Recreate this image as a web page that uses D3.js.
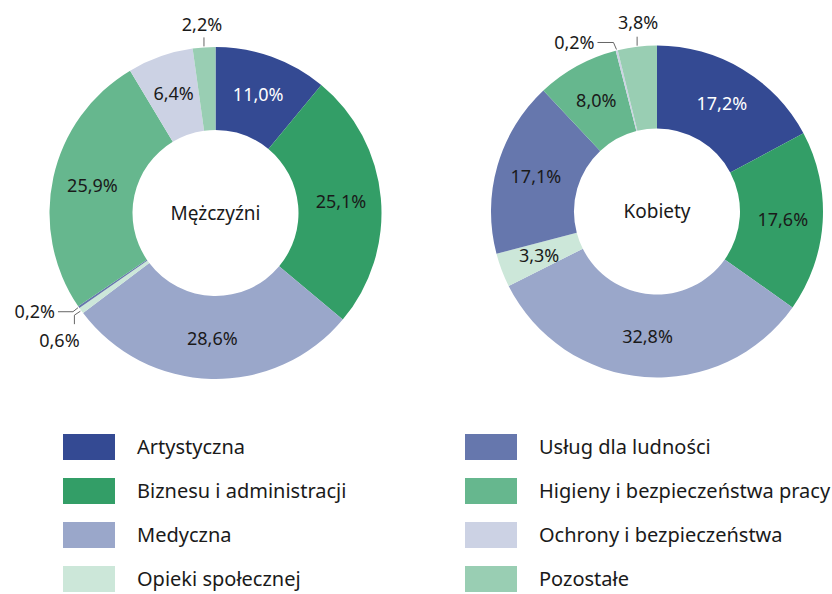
<!DOCTYPE html>
<html>
<head>
<meta charset="utf-8">
<script src="https://cdn.jsdelivr.net/npm/d3@7"></script>
<style>
  body { margin: 0; background: #fff; }
  text { font-family: "Noto Sans", sans-serif; fill: #1a1a1a; }
</style>
</head>
<body>
<div id="chart"></div>
<script>
// categories + colours (same order for both donuts and the legend)
const categories = ["Artystyczna", "Biznesu i administracji", "Medyczna", "Opieki społecznej",
                    "Usług dla ludności", "Higieny i bezpieczeństwa pracy", "Ochrony i bezpieczeństwa", "Pozostałe"];
const colors = ["#344a93", "#339e67", "#9aa7ca", "#cce7d9", "#6677ad", "#66b78e", "#ccd2e4", "#99ceb3"];

const menValues   = [11.0, 25.1, 28.6, 0.6, 0.2, 25.9, 6.4, 2.2];
const womenValues = [17.2, 17.6, 32.8, 3.3, 17.1, 8.0, 0.2, 3.8];
const groups = ["Mężczyźni", "Kobiety"];

let width = 832, height = 594;
let outerR = 166, innerR = 83, labelR = 126;

// small slices get their label outside with a leader line (offsets from the slice edge)
let leaders = [
  {
    "Pozostałe":          {pts: [[0, -9]], text: [-2, -22], anchor: "middle"},
    "Usług dla ludności": {pts: [[-5, 4], [-20, 4]], text: [-23, 4], anchor: "end"},
    "Opieki społecznej":  {pts: [[-6, 4], [-6, 13]], text: [-21, 30], anchor: "middle"}
  },
  {
    "Ochrony i bezpieczeństwa": {pts: [[-3, -7], [-19, -7]], text: [-22, -7], anchor: "end"},
    "Pozostałe":                {pts: [[0, -9]], text: [1, -23], anchor: "middle"}
  }
];
let centers = [[215.5, 213], [657, 211.5]];
let whiteLabels = ["Artystyczna"];

let svg = d3.select("#chart")
    .append("svg")
    .attr("width", width)
    .attr("height", height);

let pie = d3.pie().sort(null).value(d => d.value);
let arc = d3.arc().innerRadius(innerR).outerRadius(outerR);
let labelArc = d3.arc().innerRadius(labelR).outerRadius(labelR);
let fmt = v => d3.format(".1f")(v).replace(".", ",") + "%";
let color = d3.scaleOrdinal().domain(categories).range(colors);

[menValues, womenValues].forEach(function(values, gi) {
  let data = categories.map((c, i) => ({name: c, value: values[i]}));
  let arcs = pie(data);

  let g = svg.append("g")
      .attr("transform", "translate(" + centers[gi][0] + "," + centers[gi][1] + ")");

  g.selectAll("path.slice")
      .data(arcs)
      .enter().append("path")
      .attr("class", "slice")
      .attr("fill", d => color(d.data.name))
      .attr("d", arc);

  // inside labels
  g.selectAll("text.pct")
      .data(arcs.filter(d => !leaders[gi][d.data.name]))
      .enter().append("text")
      .attr("class", "pct")
      .attr("transform", d => "translate(" + labelArc.centroid(d) + ")")
      .attr("text-anchor", "middle")
      .attr("dy", "0.35em")
      .style("font-size", "18px")
      .style("fill", d => whiteLabels.includes(d.data.name) ? "#fff" : "#1a1a1a")
      .text(d => fmt(d.data.value));

  // outside labels with leader lines
  arcs.filter(d => leaders[gi][d.data.name]).forEach(function(d) {
    let spec = leaders[gi][d.data.name];
    let a = (d.startAngle + d.endAngle) / 2;
    let p0 = [Math.sin(a) * (outerR + 1), -Math.cos(a) * (outerR + 1)];
    let pts = [p0].concat(spec.pts.map(p => [p0[0] + p[0], p0[1] + p[1]]));
    g.append("path")
        .attr("d", d3.line()(pts))
        .attr("fill", "none")
        .attr("stroke", "#666")
        .attr("stroke-width", 1);
    g.append("text")
        .attr("x", p0[0] + spec.text[0])
        .attr("y", p0[1] + spec.text[1])
        .attr("dy", "0.35em")
        .attr("text-anchor", spec.anchor)
        .style("font-size", "18px")
        .text(fmt(d.data.value));
  });

  g.append("text")
      .attr("text-anchor", "middle")
      .attr("dy", "0.35em")
      .style("font-size", "19px")
      .text(groups[gi]);
});

// legend, two columns of four
let legend = svg.append("g");
let item = legend.selectAll("g.item")
    .data(categories)
    .enter().append("g")
    .attr("class", "item")
    .attr("transform", (d, i) => "translate(" + (i < 4 ? 63 : 465) + "," + (434 + (i % 4) * 44) + ")");

item.append("rect")
    .attr("width", 52)
    .attr("height", 26)
    .attr("fill", d => color(d));

item.append("text")
    .attr("x", 74)
    .attr("y", 13)
    .attr("dy", "0.35em")
    .style("font-size", "20px")
    .text(d => d);
</script>
</body>
</html>
